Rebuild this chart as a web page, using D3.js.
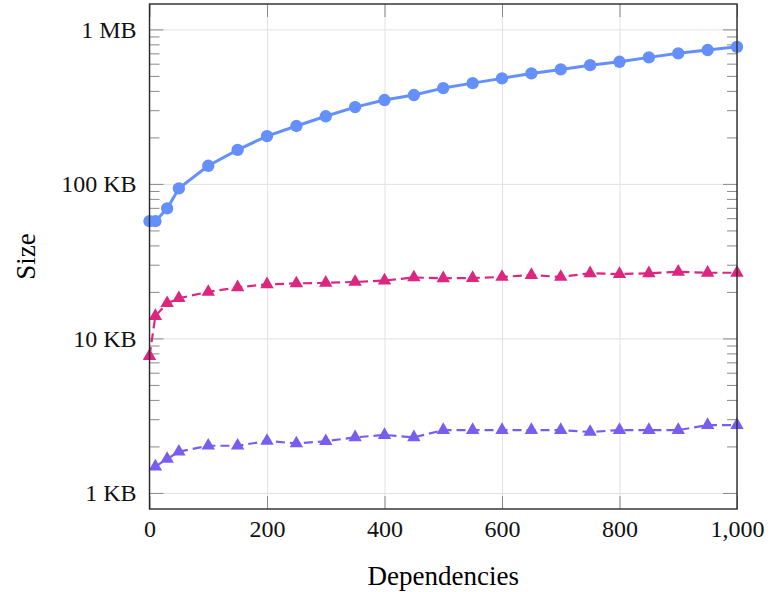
<!DOCTYPE html>
<html>
<head>
<meta charset="utf-8">
<script src="https://cdn.jsdelivr.net/npm/d3@7"></script>
<style>
  body { margin: 0; background: #fff; }
  svg, svg text { font-family: "Liberation Serif", "DejaVu Serif", serif; }
  .grid line { stroke: #e2e2e2; stroke-width: 1; }
  .grid path { display: none; }
  .ticks line { stroke: #8a8a8a; stroke-width: 1; }
  .ticks path { display: none; }
  .ticks text { font-size: 24px; fill: #111; font-family: "Liberation Serif", serif; }
</style>
</head>
<body>
<script>
// dependencies count (x) and sizes in bytes (y)
const depsAll = [0, 10, 30, 50, 100, 150, 200, 250, 300, 350, 400, 450, 500,
  550, 600, 650, 700, 750, 800, 850, 900, 950, 1000]
const bundleSize = [57400, 57400, 69400, 93500, 131000, 166000, 204000, 237000,
  274000, 314000, 349000, 376000, 417000, 449000, 482000, 519000, 551000,
  587000, 617000, 659000, 700000, 735000, 771000]
const gzipSize = [7690, 13960, 16900, 18200, 20000, 21400, 22400, 22700, 22900,
  23200, 23700, 24800, 24500, 24600, 25000, 25700, 25000, 26400, 26100, 26400,
  27000, 26600, 26600]
const depsPurple = depsAll.slice(1)
const otherSize = [1480, 1660, 1850, 2020, 2020, 2170, 2090, 2160, 2290, 2370,
  2290, 2550, 2550, 2550, 2550, 2550, 2480, 2550, 2550, 2550, 2750, 2750]

const xTicks = [0, 200, 400, 600, 800, 1000]
const yTicks = [1e3, 1e4, 1e5, 1e6]
const yTickLabels = ['1 KB', '10 KB', '100 KB', '1 MB']

const margin = {top: 4, right: 41, bottom: 83, left: 149.5}
const W = 778, H = 592
const width = W - margin.left - margin.right
const height = H - margin.top - margin.bottom

const svg = d3.select('body').append('svg')
  .attr('width', W)
  .attr('height', H)

const g = svg.append('g')
  .attr('transform', `translate(${margin.left},${margin.top})`)

const x = d3.scaleLinear().domain([0, 1000]).range([0, width])
const y = d3.scaleLog().domain([787, 1.46e6]).range([height, 0])

// minor ticks 2..9 per decade between 1 KB and 1 MB
const minor = []
for (let d = 1e3; d < 1e6; d *= 10) {
  for (let k = 2; k <= 9; k++) minor.push(d * k)
}

// grid
g.append('g').attr('class', 'grid')
  .call(d3.axisLeft(y).tickValues(yTicks).tickSize(-width).tickFormat(''))
g.append('g').attr('class', 'grid')
  .attr('transform', `translate(0,${height})`)
  .call(d3.axisBottom(x).tickValues(xTicks).tickSize(-height).tickFormat(''))

// ticks, pointing inward
const fmt = d => yTickLabels[yTicks.indexOf(d)]
g.append('g').attr('class', 'ticks')
  .call(d3.axisLeft(y).tickValues(yTicks).tickSize(-14).tickPadding(13).tickFormat(fmt))
g.append('g').attr('class', 'ticks')
  .call(d3.axisLeft(y).tickValues(minor).tickSize(-10).tickFormat(''))
g.append('g').attr('class', 'ticks')
  .attr('transform', `translate(${width},0)`)
  .call(d3.axisRight(y).tickValues(yTicks).tickSize(-14).tickFormat(''))
g.append('g').attr('class', 'ticks')
  .attr('transform', `translate(${width},0)`)
  .call(d3.axisRight(y).tickValues(minor).tickSize(-10).tickFormat(''))
g.append('g').attr('class', 'ticks')
  .attr('transform', `translate(0,${height})`)
  .call(d3.axisBottom(x).tickValues(xTicks).tickSize(-13).tickPadding(11)
    .tickFormat(d3.format(',')))
g.append('g').attr('class', 'ticks')
  .call(d3.axisTop(x).tickValues(xTicks).tickSize(-13).tickFormat(''))

g.selectAll('.ticks').attr('font-family', null).attr('font-size', null)

// series
const series = [
  {xs: depsAll, ys: bundleSize, color: '#648fff', dash: null, mark: 'circle', w: 3},
  {xs: depsAll, ys: gzipSize, color: '#dc267f', dash: '9,5', mark: 'triangle', w: 2.2},
  {xs: depsPurple, ys: otherSize, color: '#785ef0', dash: '9,5', mark: 'triangle', w: 2.2}
]

const line = d3.line().x(d => x(d[0])).y(d => y(d[1]))

series.forEach(s => {
  const pts = s.xs.map((v, i) => [v, s.ys[i]])
  g.append('path')
    .datum(pts)
    .attr('fill', 'none')
    .attr('stroke', s.color)
    .attr('stroke-width', s.w)
    .attr('stroke-linejoin', 'round')
    .attr('stroke-dasharray', s.dash)
    .attr('d', line)
  const sym = d3.symbol()
    .type(s.mark === 'circle' ? d3.symbolCircle : d3.symbolTriangle)
    .size(s.mark === 'circle' ? 120 : 78)
  g.append('g').selectAll('path')
    .data(pts)
    .join('path')
    .attr('transform', d => `translate(${x(d[0])},${y(d[1])})`)
    .attr('d', sym)
    .attr('fill', s.color)
})

// frame
g.append('rect')
  .attr('width', width)
  .attr('height', height)
  .attr('fill', 'none')
  .attr('stroke', '#2a2a2a')
  .attr('stroke-width', 1.4)

// axis titles
svg.append('text')
  .attr('x', margin.left + width / 2)
  .attr('y', 585)
  .attr('text-anchor', 'middle')
  .attr('font-size', 27)
  .text('Dependencies')
svg.append('text')
  .attr('transform', `translate(35,${margin.top + height / 2}) rotate(-90)`)
  .attr('text-anchor', 'middle')
  .attr('font-size', 27)
  .text('Size')
</script>
</body>
</html>
